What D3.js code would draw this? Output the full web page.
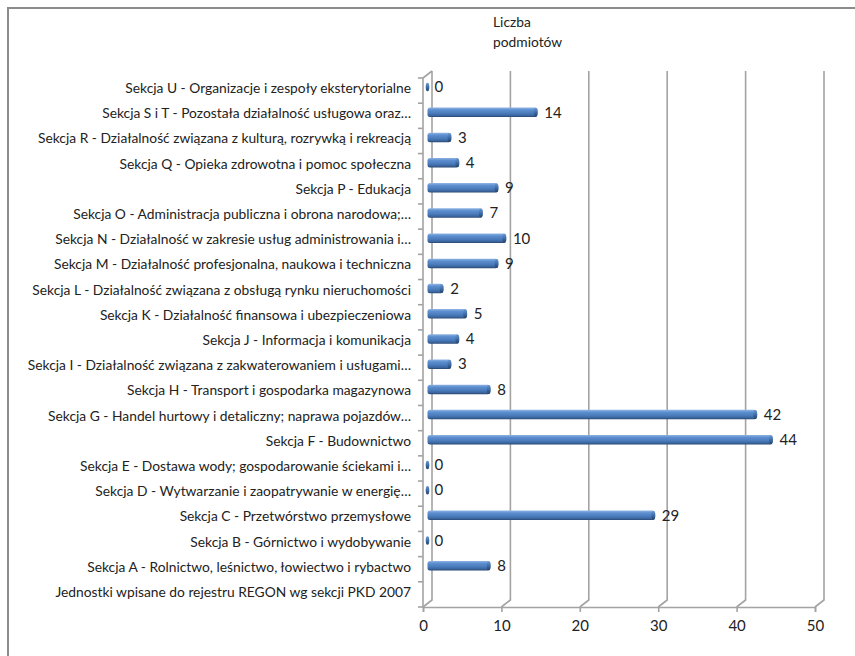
<!DOCTYPE html>
<html><head><meta charset="utf-8">
<script src="https://cdn.jsdelivr.net/npm/d3@7/dist/d3.min.js"></script>
<style>body{margin:0;background:#fff}svg{display:block}</style>
</head><body>
<script>
const categories = [
  "Sekcja U - Organizacje i zespoły eksterytorialne",
  "Sekcja S i T - Pozostała działalność usługowa oraz…",
  "Sekcja R - Działalność związana z kulturą, rozrywką i rekreacją",
  "Sekcja Q - Opieka zdrowotna i pomoc społeczna",
  "Sekcja P - Edukacja",
  "Sekcja O - Administracja publiczna i obrona narodowa;…",
  "Sekcja N - Działalność w zakresie usług administrowania i…",
  "Sekcja M - Działalność profesjonalna, naukowa i techniczna",
  "Sekcja L - Działalność związana z obsługą rynku nieruchomości",
  "Sekcja K - Działalność finansowa i ubezpieczeniowa",
  "Sekcja J - Informacja i komunikacja",
  "Sekcja I - Działalność związana z zakwaterowaniem i usługami…",
  "Sekcja H - Transport i gospodarka magazynowa",
  "Sekcja G - Handel hurtowy i detaliczny; naprawa pojazdów…",
  "Sekcja F - Budownictwo",
  "Sekcja E - Dostawa wody; gospodarowanie ściekami i…",
  "Sekcja D - Wytwarzanie i zaopatrywanie w energię…",
  "Sekcja C - Przetwórstwo przemysłowe",
  "Sekcja B - Górnictwo i wydobywanie",
  "Sekcja A - Rolnictwo, leśnictwo, łowiectwo i rybactwo",
  "Jednostki wpisane do rejestru REGON wg sekcji PKD 2007"
];
const values = [0, 14, 3, 4, 9, 7, 10, 9, 2, 5, 4, 3, 8, 42, 44, 0, 0, 29, 0, 8, null];
const xTicks = [0, 10, 20, 30, 40, 50];
const titleLines = ["Liczba", "podmiotów"];

const W = 855, H = 656;
const FONT = "Lato, 'Open Sans', sans-serif";
const svg = d3.select("body").append("svg").attr("width", W).attr("height", H)
  .style("font-family", FONT);

const defs = svg.append("defs");
const g = defs.append("linearGradient").attr("id", "barGrad").attr("x1", 0).attr("y1", 0).attr("x2", 0).attr("y2", 1);
[[0, "#8fb4e3"], [0.25, "#5d8fd0"], [0.6, "#4a7bbb"], [0.85, "#3a659e"], [1, "#27456d"]]
  .forEach(([o, c]) => g.append("stop").attr("offset", o).attr("stop-color", c));
const gc = defs.append("linearGradient").attr("id", "capGrad").attr("x1", 0).attr("y1", 0).attr("x2", 0).attr("y2", 1);
[[0, "#6d97cf"], [0.5, "#3f6ea9"], [1, "#24426a"]]
  .forEach(([o, c]) => gc.append("stop").attr("offset", o).attr("stop-color", c));

// outer border
svg.append("rect").attr("x", 8).attr("y", 8).attr("width", 900).attr("height", 700)
  .attr("fill", "none").attr("stroke", "#8c8c8c").attr("stroke-width", 2);

const x = d3.scaleLinear().domain([0, 50]).range([423, 815]);
const y = d3.scaleBand().domain(categories).range([78, 607]).padding(0);
const DX = 9, DY = -7;
const gridColor = "#a3a3a3";

// back wall gridlines + floor diagonals
const grid = svg.append("g").attr("stroke", gridColor).attr("stroke-width", 1.6).attr("fill", "none");
xTicks.forEach(t => {
  const fx = x(t), fy = y.range()[1];
  grid.append("path").attr("d", `M${fx},${fy}L${fx + DX},${fy + DY}L${fx + DX},${y.range()[0] + DY}`);
});
// front left axis
const y0 = y.range()[0], y1 = y.range()[1];
grid.append("path").attr("d", `M${x(0) + DX},${y0 + DY}L${x(0)},${y0}L${x(0)},${y1}`);
// category ticks
const bounds = categories.map(c => y(c)).concat([y1]);
bounds.forEach(b => grid.append("line").attr("x1", x(0) - 5).attr("x2", x(0)).attr("y1", b).attr("y2", b));

// bottom axis
const axisG = svg.append("g").attr("transform", `translate(0,${y1})`)
  .call(d3.axisBottom(x).tickValues(xTicks).tickSize(5).tickPadding(8));
axisG.select(".domain").attr("stroke", gridColor).attr("stroke-width", 1.6);
axisG.selectAll(".tick line").attr("stroke", gridColor).attr("stroke-width", 1.6);
axisG.selectAll(".tick text").attr("fill", "#222").style("font-size", "15px")
  .style("font-family", FONT);

// category labels
svg.append("g").selectAll("text").data(categories).join("text")
  .attr("x", 411).attr("y", d => y(d) + y.bandwidth() / 2 - 1)
  .attr("text-anchor", "end").attr("dominant-baseline", "middle")
  .attr("fill", "#222").style("font-size", "13.8px").text(d => d);

// bars
const bh = 9.5, off = 4.5;
const bars = svg.append("g");
categories.forEach((c, i) => {
  const v = values[i];
  if (v === null) return;
  const cy = y(c) + y.bandwidth() / 2 + DY / 2;
  const xs = x(0) + off, xe = x(v) + off;
  if (v > 0) {
    bars.append("rect").attr("x", xs).attr("y", cy - bh / 2).attr("width", xe - xs).attr("height", bh)
      .attr("rx", 2.5).attr("fill", "url(#barGrad)");
    bars.append("ellipse").attr("cx", xe - 1.5).attr("cy", cy).attr("rx", 2).attr("ry", bh / 2 - 0.3)
      .attr("fill", "url(#capGrad)");
  } else {
    bars.append("ellipse").attr("cx", xs).attr("cy", cy).attr("rx", 1.8).attr("ry", bh / 2 - 0.5)
      .attr("fill", "url(#capGrad)");
  }
  svg.append("text").attr("x", xe + 7).attr("y", cy + 1.5)
    .attr("dominant-baseline", "middle").attr("fill", "#222").style("font-size", "15px").text(v);
});

// title
svg.append("g").selectAll("text").data(titleLines).join("text")
  .attr("x", 493).attr("y", (d, i) => 27 + i * 20)
  .attr("fill", "#222").style("font-size", "13.8px").text(d => d);
</script>
</body></html>
